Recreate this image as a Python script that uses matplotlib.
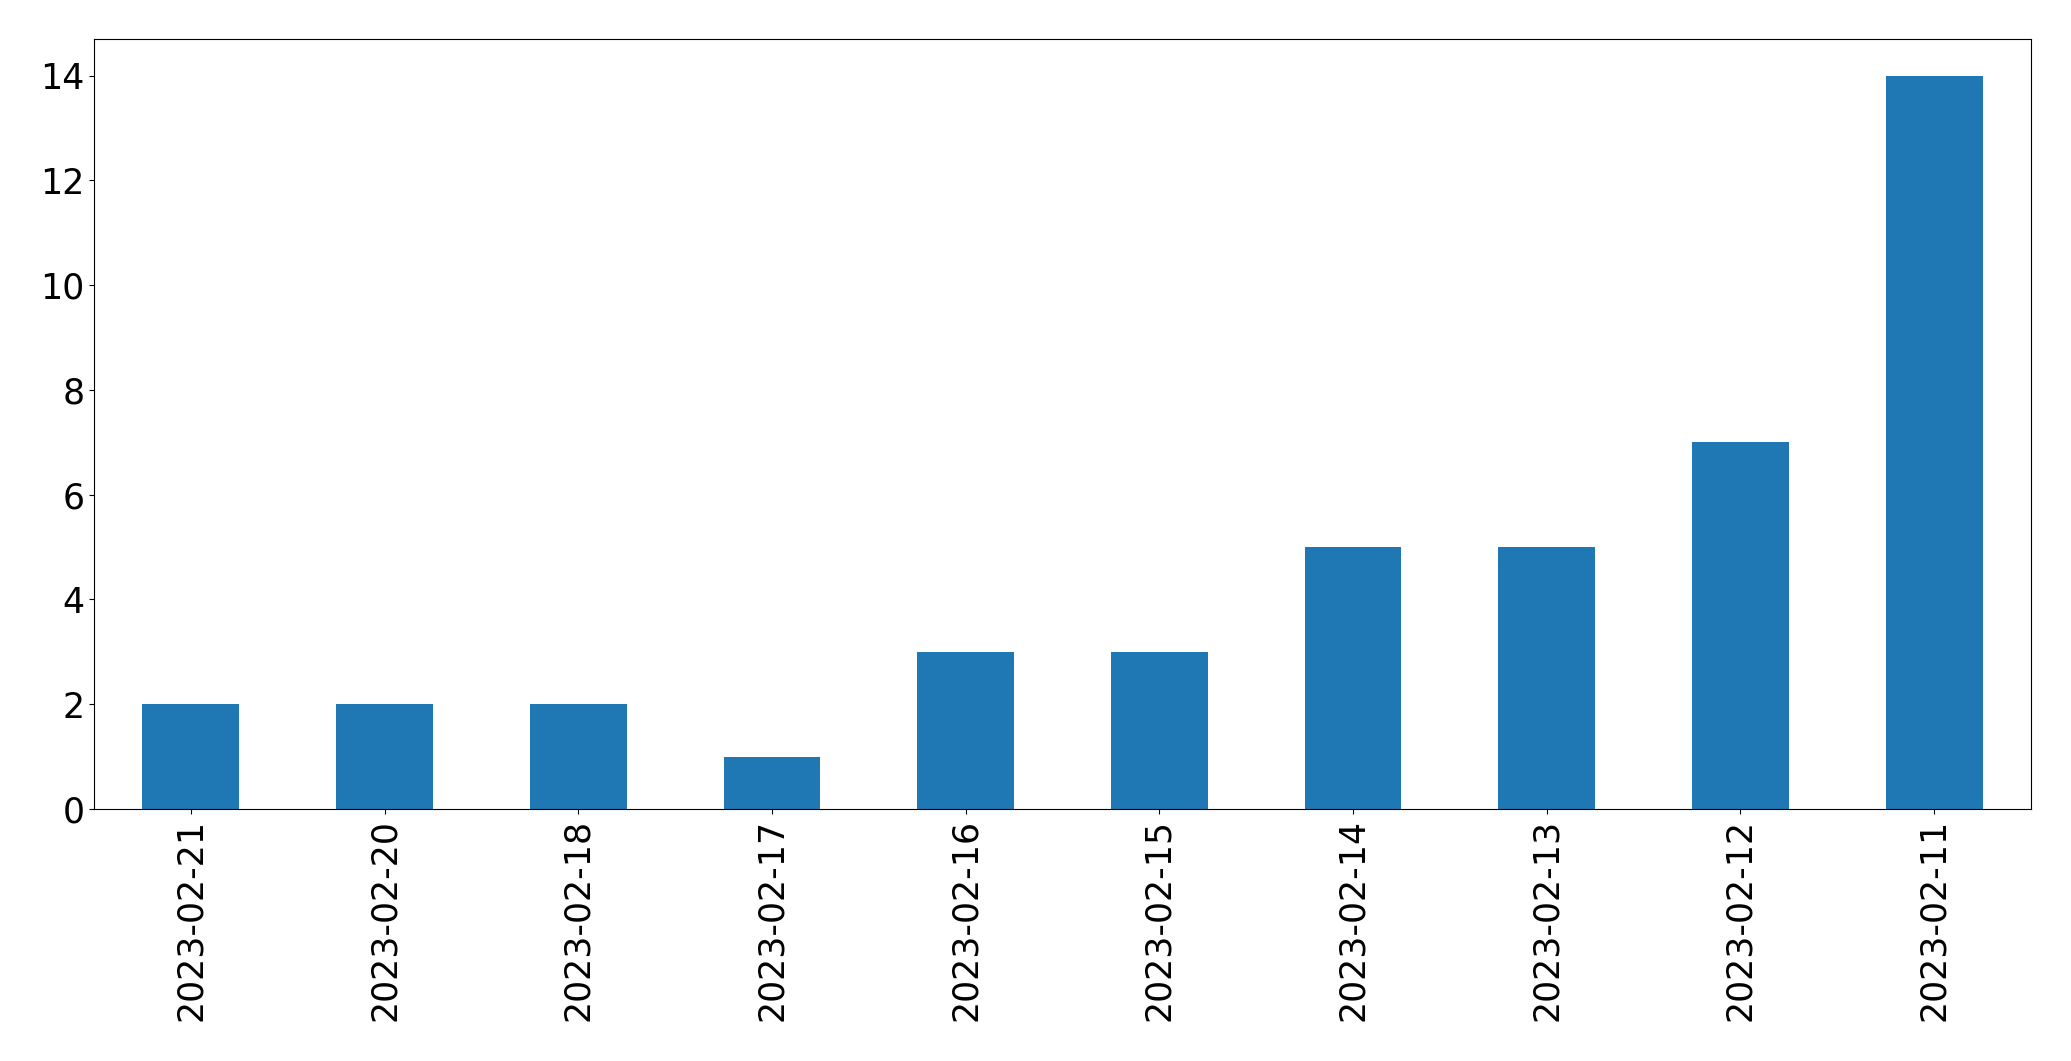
import matplotlib
matplotlib.use("Agg")
import matplotlib.pyplot as plt
import numpy as np

dates = ["2023-02-21", "2023-02-20", "2023-02-18", "2023-02-17", "2023-02-16",
         "2023-02-15", "2023-02-14", "2023-02-13", "2023-02-12", "2023-02-11"]
counts = [2, 2, 2, 1, 3, 3, 5, 5, 7, 14]

fig = plt.figure(figsize=(20.71, 10.61), dpi=100)
ax = fig.add_axes([94/2071, 1-809/1061, (2031-94)/2071, (809-39)/1061])
x = np.arange(len(dates))
ax.bar(x, counts, width=0.5, color="#1f77b4")
ax.set_xlim(-0.5, len(dates)-0.5)
ax.set_ylim(0, 14.7)
ax.set_xticks(x)
ax.set_xticklabels(dates, rotation=90)
ax.tick_params(labelsize=25)
fig.savefig("out.png", dpi=100)
